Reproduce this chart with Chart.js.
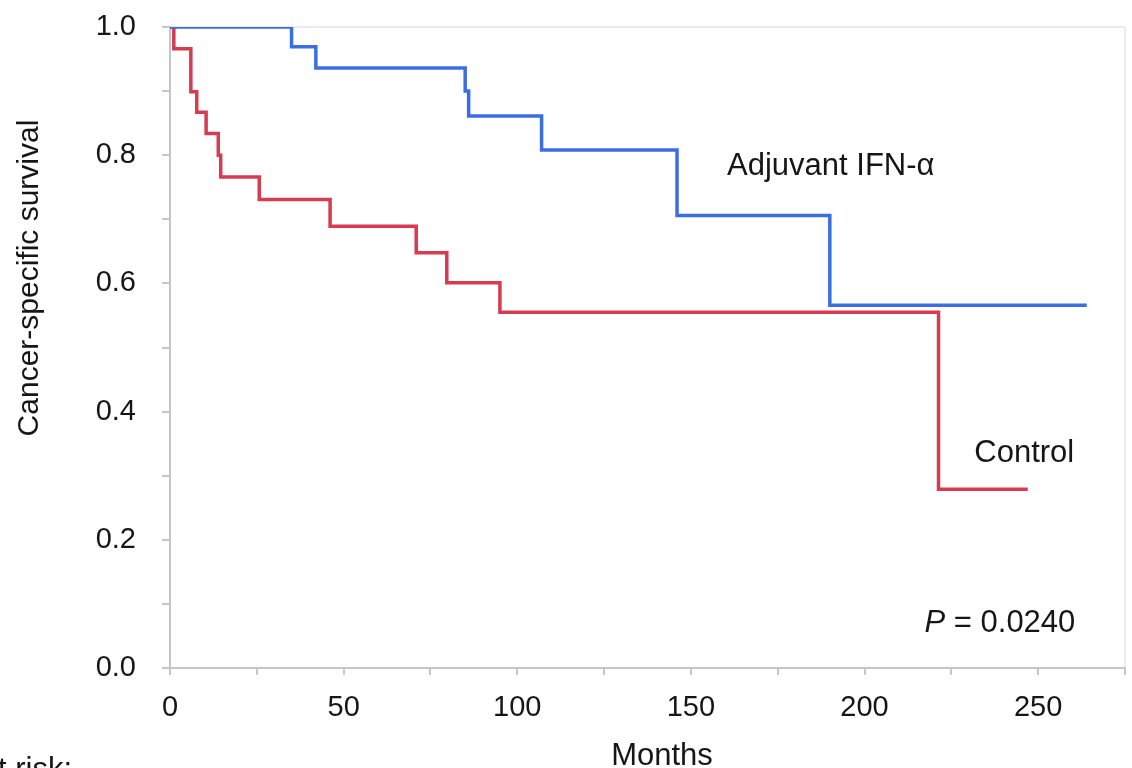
<!DOCTYPE html>
<html>
<head>
<meta charset="utf-8">
<script src="https://cdn.jsdelivr.net/npm/chart.js@4"></script>
<style>
  html, body { margin: 0; padding: 0; background: #fff; }
  #wrap { width: 1132px; height: 768px; }
</style>
</head>
<body>
<div id="wrap"><canvas id="kmChart" width="1132" height="768"></canvas></div>
<script>
// Kaplan-Meier steps
const ifnMonths = [0, 35, 42, 85, 86, 107, 146, 190, 264];
const ifnSurvival = [1.0, 0.969, 0.936, 0.900, 0.861, 0.808, 0.706, 0.566, 0.566];

const controlMonths = [0, 1.1, 6, 7.7, 10.4, 13.9, 14.6, 25.7, 46.1, 70.9, 79.7, 95, 221.3, 247];
const controlSurvival = [1.0, 0.966, 0.899, 0.867, 0.834, 0.800, 0.766, 0.731, 0.689, 0.648, 0.601, 0.555, 0.279, 0.279];

const xTickLabels = [0, 50, 100, 150, 200, 250];
const yTickLabels = [0.0, 0.2, 0.4, 0.6, 0.8, 1.0];

const toPoints = (xs, ys) => xs.map((x, i) => ({ x: x, y: ys[i] }));

const FONT = '"Liberation Sans", Arial, Helvetica, sans-serif';
const TEXT = '#161616';
const AXIS = '#c6c6c6';

// text on the plot: group labels, p value, axis titles
const labelPlugin = {
  id: 'kmLabels',
  afterDatasetsDraw(chart) {
    const { ctx, scales: { x, y } } = chart;
    ctx.save();
    ctx.fillStyle = TEXT;
    ctx.textBaseline = 'alphabetic';
    ctx.font = '31px ' + FONT;

    ctx.textAlign = 'left';
    ctx.fillText('Adjuvant IFN-α', x.getPixelForValue(160.4), y.getPixelForValue(0.769));
    ctx.fillText('Control', x.getPixelForValue(231.6), y.getPixelForValue(0.321));

    // P value, P in italics
    const rest = ' = 0.0240';
    const restW = ctx.measureText(rest).width;
    const right = x.getPixelForValue(260.7);
    const base = y.getPixelForValue(0.056);
    ctx.textAlign = 'right';
    ctx.fillText(rest, right, base);
    ctx.font = 'italic 31px ' + FONT;
    ctx.fillText('P', right - restW, base);

    // axis titles
    ctx.font = '31px ' + FONT;
    ctx.textAlign = 'center';
    ctx.fillText('Months', 662, 765);

    ctx.textAlign = 'right';
    ctx.fillText('at risk:', 72, 779);

    ctx.translate(38, 278);
    ctx.rotate(-Math.PI / 2);
    ctx.textAlign = 'center';
    ctx.font = '30px ' + FONT;
    ctx.fillText('Cancer-specific survival', 0, 0);
    ctx.restore();
  }
};

const ctx = document.getElementById('kmChart').getContext('2d');
const kmChart = new Chart(ctx, {
  type: 'line',
  data: {
    datasets: [
      {
        label: 'Adjuvant IFN-α',
        data: toPoints(ifnMonths, ifnSurvival),
        borderColor: '#3b6ee2',
        borderWidth: 3.5,
        stepped: true,
        pointRadius: 0,
        fill: false
      },
      {
        label: 'Control',
        data: toPoints(controlMonths, controlSurvival),
        borderColor: '#d63b50',
        borderWidth: 3.5,
        stepped: true,
        pointRadius: 0,
        fill: false
      }
    ]
  },
  options: {
    responsive: false,
    animation: false,
    events: [],
    layout: { padding: { top: 27, right: 7, left: 0, bottom: 0 } },
    plugins: {
      legend: { display: false },
      tooltip: { enabled: false },
      title: { display: false }
    },
    scales: {
      x: {
        type: 'linear',
        min: 0,
        max: 275,
        afterFit: (scale) => {
          scale.height = 100;
          scale.paddingLeft = 0;
          scale.paddingRight = 0;
        },
        border: { color: AXIS, width: 2 },
        grid: {
          drawOnChartArea: true,
          color: (c) => (c.tick && c.tick.value === 275 ? '#ececec' : 'rgba(0,0,0,0)'),
          tickColor: AXIS,
          tickLength: 7,
          lineWidth: 2
        },
        ticks: {
          stepSize: 25,
          autoSkip: false,
          maxRotation: 0,
          padding: 16,
          color: TEXT,
          font: { family: FONT, size: 29 },
          callback: (v) => (xTickLabels.includes(v) ? String(v) : '')
        }
      },
      y: {
        type: 'linear',
        min: 0,
        max: 1,
        afterFit: (scale) => {
          scale.width = 170;
          scale.paddingTop = 0;
          scale.paddingBottom = 0;
        },
        border: { color: AXIS, width: 2 },
        grid: {
          drawOnChartArea: true,
          color: (c) => (c.tick && Math.abs(c.tick.value - 1) < 1e-6 ? '#ececec' : 'rgba(0,0,0,0)'),
          tickColor: AXIS,
          tickLength: 8,
          lineWidth: 2
        },
        ticks: {
          stepSize: 0.1,
          autoSkip: false,
          padding: 26,
          color: TEXT,
          font: { family: FONT, size: 29 },
          callback: (v) => {
            const hit = yTickLabels.find((t) => Math.abs(t - v) < 1e-6);
            return hit === undefined ? '' : hit.toFixed(1);
          }
        }
      }
    }
  },
  plugins: [labelPlugin]
});
</script>
</body>
</html>
